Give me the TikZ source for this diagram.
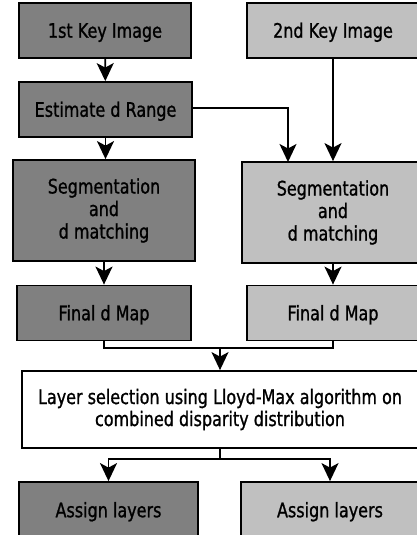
\documentclass[tikz,border=0pt]{standalone}
\usepackage{fontspec}
\setmainfont{DejaVu Sans}[FakeStretch=0.8,FakeBold=1.0]
\usetikzlibrary{arrows.meta}
\definecolor{darkbox}{HTML}{808080}
\definecolor{lightbox}{HTML}{C0C0C0}
\begin{document}
\begin{tikzpicture}[x=1pt,y=-1pt,
  box/.style={draw=black,line width=1.8pt,inner sep=0pt,align=center,
    font=\fontsize{20}{22.5}\selectfont},
  capc/.style={text height=14.5pt,text depth=0pt},
  dk/.style={box,fill=darkbox},
  lt/.style={box,fill=lightbox},
  wt/.style={box,fill=white,font=\fontsize{20}{22}\selectfont},
  conn/.style={line width=1.8pt,-{Stealth[length=18pt,width=17pt,inset=4.5pt]}},
  plain/.style={line width=1.8pt}]
\useasboundingbox (0,0) rectangle (416,535);
\fill[white] (0,0) rectangle (416,535);
% nodes
\node[dk,capc,minimum width=172pt,minimum height=55pt] (k1) at (105,30.5) {1st Key Image};
\node[lt,capc,minimum width=172pt,minimum height=55pt] (k2) at (333,30.5) {2nd Key Image};
\node[dk,capc,minimum width=173pt,minimum height=55pt] (est) at (105.5,109.5) {Estimate d Range};
\node[dk,minimum width=182pt,minimum height=101pt] (seg1) at (104,210.5) {Segmentation\\and\\d matching};
\node[lt,minimum width=182pt,minimum height=101pt] (seg2) at (333,212.5) {Segmentation\\and\\d matching};
\node[dk,capc,minimum width=174pt,minimum height=55pt] (fin1) at (104,313) {Final d Map};
\node[lt,capc,minimum width=172pt,minimum height=55pt] (fin2) at (333,313) {Final d Map};
\node[wt,minimum width=396pt,minimum height=77pt] (lay) at (220,409.5) {Layer selection using Lloyd-Max algorithm on\\combined disparity distribution};
\node[dk,capc,minimum width=179pt,minimum height=56pt] (as1) at (108.5,510) {Assign layers};
\node[lt,capc,minimum width=178pt,minimum height=56pt] (as2) at (330,510) {Assign layers};
% connectors
\coordinate (e2) at (288,162);
\coordinate (m) at (220,348);
\draw[conn] (k1) -- (est);
\draw[conn] (est.south) -- (est.south |- seg1.north);
\draw[conn] (est.east |- 0,108) -| (e2);
\draw[conn] (k2) -- (seg2);
\draw[conn] (seg1.south) -- (seg1.south |- fin1.north);
\draw[conn] (seg2) -- (fin2);
\draw[plain] (fin1.south) |- (m) -| (fin2.south);
\draw[conn] (m) -- (lay.north);
\draw[conn] (lay.south) -- ++(0,10) -| (as1.north);
\draw[conn] (lay.south) -- ++(0,10) -| (as2.north);
\end{tikzpicture}
\end{document}
